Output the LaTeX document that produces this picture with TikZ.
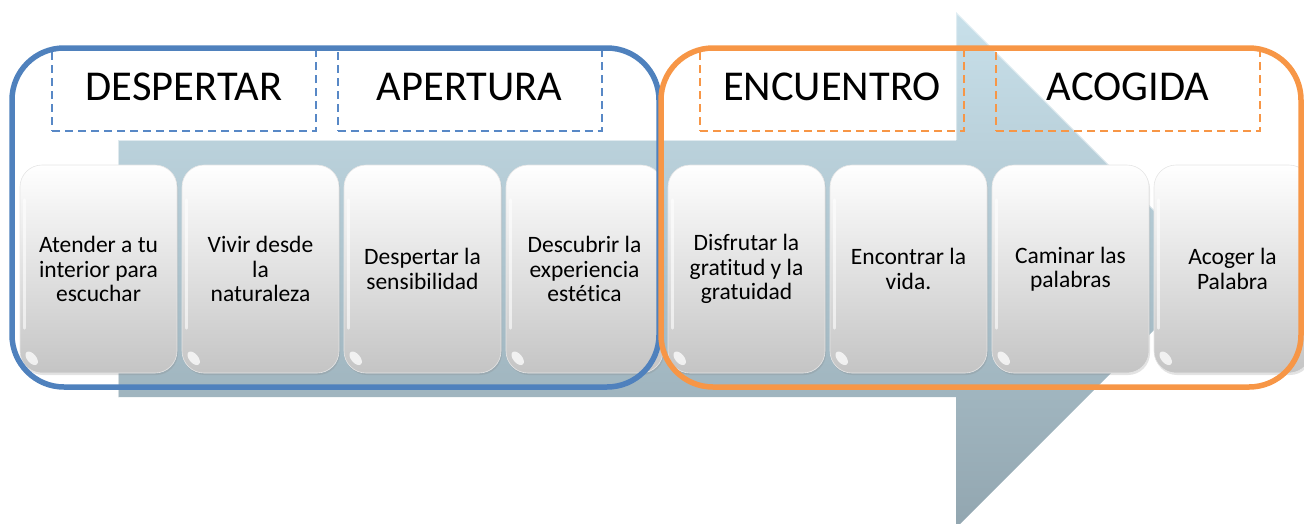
\documentclass[tikz,border=0pt]{standalone}
\usepackage{fontspec}
\setmainfont{Carlito}[Ligatures={NoCommon,NoContextual}]
\usetikzlibrary{shadows,calc}
\definecolor{frameblue}{RGB}{79,129,189}
\definecolor{frameorange}{RGB}{247,150,70}
\definecolor{dashblue}{RGB}{88,136,198}
\definecolor{arrowtop}{RGB}{200,224,234}
\definecolor{arrowbot}{RGB}{146,166,176}
\begin{document}
\begin{tikzpicture}[x=1pt,y=-1pt,
  stepbox/.style={rounded corners=22pt, minimum width=157pt, minimum height=208pt,
    inner sep=0pt, text width=150pt, align=flush center,
    top color=white, middle color=black!6, bottom color=black!23,
    draw=black!10, line width=0.6pt,
    font=\fontsize{23.5}{24.5}\selectfont,
    drop shadow={shadow xshift=1pt, shadow yshift=-2pt, opacity=0.22}},
  headbox/.style={minimum width=264pt, minimum height=81pt, inner sep=0pt,
    text height=28pt, text depth=8pt, line width=2pt, dash pattern=on 8pt off 5pt,
    font=\fontsize{42.5}{45}\selectfont},
  frame/.style={line width=5.5pt, rounded corners=52pt},
  gloss/.style={white, opacity=0.75}
]
\useasboundingbox (0,0) rectangle (1304,523);
\clip (0,0) rectangle (1304,523);

% big arrow
\shade[top color=arrowtop, bottom color=arrowbot]
  (118,140) -- (956,140) -- (956,12) -- (1214,270) -- (956,528) -- (956,397) -- (118,397) -- cycle;
\draw[white, opacity=0.55, line width=2pt] (118,397) -- (118,140) -- (956,140);
\draw[white, opacity=0.45, line width=2pt] (956,140) -- (956,12) -- (1214,270);

% phase headers
\node[headbox, draw=dashblue]     (h1) at (184,90.5)   {DESPERTAR};
\node[headbox, draw=dashblue]     (h2) at (469.5,90.5) {APERTURA};
\node[headbox, draw=frameorange]  (h3) at (832,90.5)   {ENCUENTRO};
\node[headbox, draw=frameorange]  (h4) at (1128,90.5)  {ACOGIDA};

% step boxes
\node[stepbox] (b1) at (98.5,269)  {Atender a tu\\interior para\\escuchar};
\node[stepbox] (b2) at (260.5,269) {Vivir desde\\la\\naturaleza};
\node[stepbox] (b3) at (422.5,269) {Despertar la\\sensibilidad};
\node[stepbox] (b4) at (584.5,269) {Descubrir la\\experiencia\\estética};
\node[stepbox] (b5) at (746.5,269) {Disfrutar la\\gratitud y la\\gratuidad};
\node[stepbox] (b6) at (908.5,269) {Encontrar la\\vida.};
\node[stepbox] (b7) at (1070.5,269){Caminar las\\palabras};
\node[stepbox] (b8) at (1232.5,269){Acoger la\\Palabra};

\foreach \i in {1,...,8}{
  \fill[gloss] ([shift={(12,-15)}]b\i.south west) circle [x radius=8pt, y radius=4.5pt, rotate=-50];
  \draw[gloss, line width=2.5pt, opacity=0.6, line cap=round]
    ([shift={(5,35)}]b\i.north west) -- ([shift={(5,-45)}]b\i.south west);
}

% group frames
\draw[frame, frameblue]   (12,48) rectangle (659,387);
\draw[frame, frameorange] (661,48) rectangle (1301,387);
\end{tikzpicture}
\end{document}
